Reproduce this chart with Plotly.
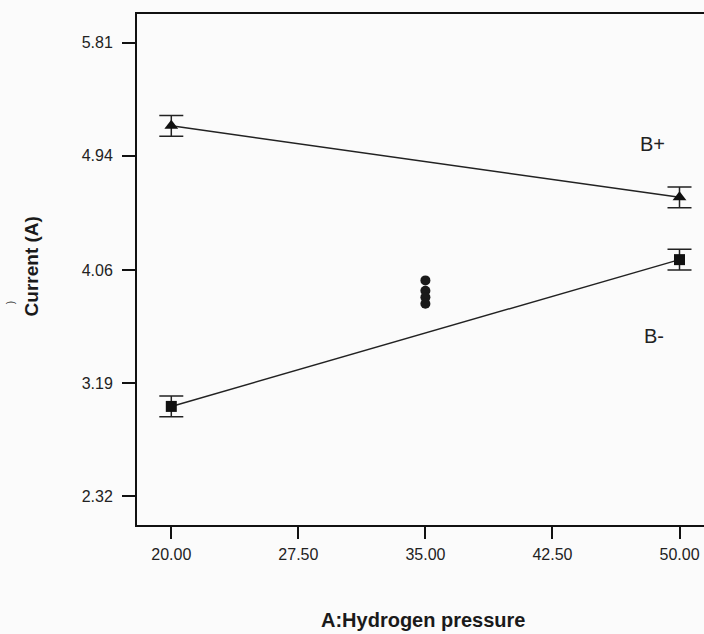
import plotly.graph_objects as go

x_levels = [20.0, 50.0]
b_plus = [5.17, 4.62]
b_minus = [3.01, 4.14]
err = [0.08, 0.08]
center_x = [35.0, 35.0, 35.0, 35.0]
center_y = [3.98, 3.90, 3.85, 3.80]
x_ticks = [20.0, 27.5, 35.0, 42.5, 50.0]
x_tick_text = ["20.00", "27.50", "35.00", "42.50", "50.00"]
y_ticks = [2.32, 3.19, 4.06, 4.94, 5.81]
y_tick_text = ["2.32", "3.19", "4.06", "4.94", "5.81"]

font = "Liberation Sans, Arial, sans-serif"
fig = go.Figure()

fig.add_trace(go.Scatter(
    x=x_levels, y=b_plus, mode="lines+markers",
    line=dict(color="#222222", width=1.5),
    marker=dict(symbol="triangle-up", size=12, color="#111111"),
    error_y=dict(type="data", array=err, visible=True, color="#222222", thickness=1.5, width=12),
    showlegend=False))
fig.add_trace(go.Scatter(
    x=x_levels, y=b_minus, mode="lines+markers",
    line=dict(color="#222222", width=1.5),
    marker=dict(symbol="square", size=11, color="#111111"),
    error_y=dict(type="data", array=err, visible=True, color="#222222", thickness=1.5, width=12),
    showlegend=False))
fig.add_trace(go.Scatter(
    x=center_x, y=center_y, mode="markers",
    marker=dict(symbol="circle", size=10, color="#1a1a1a"),
    showlegend=False))

fig.add_annotation(x=48.4, y=5.03, text="B+", showarrow=False,
                   font=dict(family=font, size=20, color="#222222"))
fig.add_annotation(x=48.5, y=3.55, text="B-", showarrow=False,
                   font=dict(family=font, size=20, color="#222222"))
fig.add_annotation(xref="paper", yref="paper", x=-0.237, y=0.434, text=")",
                   showarrow=False, textangle=-90,
                   font=dict(family=font, size=10, color="#333333"))
fig.add_annotation(xref="paper", yref="paper", x=0.506, y=-0.186,
                   text="<b>A:Hydrogen pressure</b>", showarrow=False,
                   xanchor="center", yanchor="middle",
                   font=dict(family=font, size=20, color="#1a1a1a"))
fig.add_annotation(xref="paper", yref="paper", x=-0.187, y=0.506,
                   text="<b>Current (A)</b>", showarrow=False, textangle=-90,
                   xanchor="center", yanchor="middle",
                   font=dict(family=font, size=19, color="#1a1a1a"))

fig.update_layout(
    width=704, height=634,
    margin=dict(l=137, r=0, t=14, b=109),
    paper_bgcolor="#fbfbfb", plot_bgcolor="#fbfbfb",
    font=dict(family=font, color="#222222"),
    xaxis=dict(range=[17.975, 51.446], tickvals=x_ticks, ticktext=x_tick_text,
               showline=True, linecolor="#111111", linewidth=2, mirror=True,
               ticks="outside", ticklen=12, tickwidth=1.5, tickcolor="#111111",
               showgrid=False, zeroline=False, ticklabelstandoff=2,
               tickfont=dict(size=16, color="#222222")),
    yaxis=dict(range=[2.097, 6.031], tickvals=y_ticks, ticktext=y_tick_text,
               showline=True, linecolor="#111111", linewidth=2,
               ticks="outside", ticklen=13, tickwidth=1.5, tickcolor="#111111",
               showgrid=False, zeroline=False, ticklabelstandoff=6,
               tickfont=dict(size=16, color="#222222")),
)

fig.write_html("out.html")
